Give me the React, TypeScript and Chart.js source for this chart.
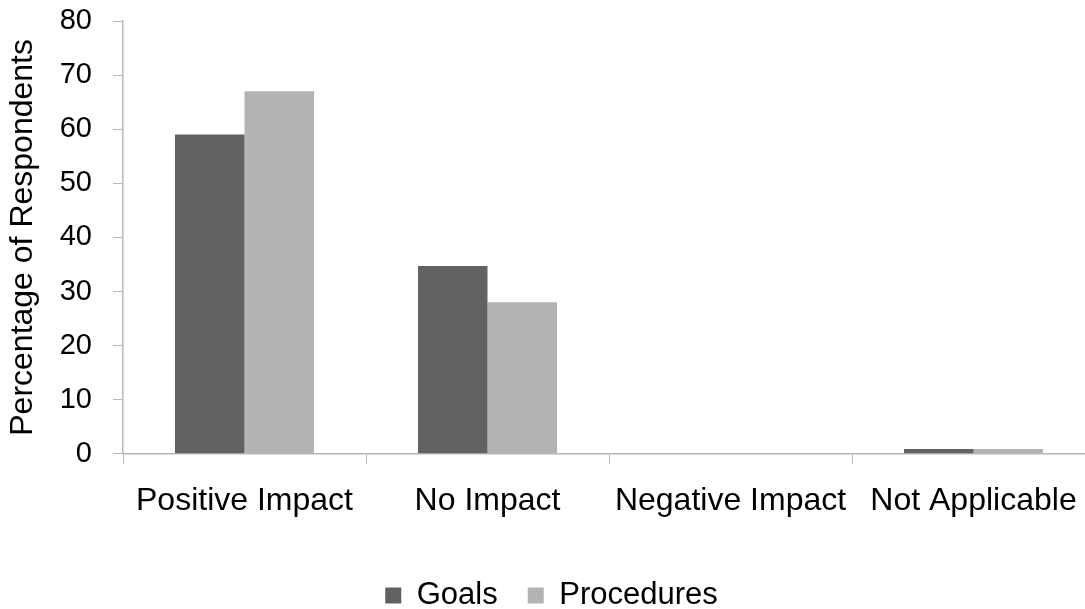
import React, { useEffect, useRef } from "react";
import { Chart, registerables } from "chart.js";

Chart.register(...registerables);

const categories = ["Positive Impact", "No Impact", "Negative Impact", "Not Applicable"];
const goals = [59, 34.7, 0, 0.9];
const procedures = [67, 28, 0, 0.9];
const yTitle = "Percentage of Respondents";

const FONT = "'Liberation Sans', Arial, sans-serif";
const AXIS = "#b8b8b8";

export default function App() {
  const ref = useRef<HTMLCanvasElement | null>(null);

  useEffect(() => {
    if (!ref.current) return;
    const chart = new Chart(ref.current, {
      type: "bar",
      data: {
        labels: categories,
        datasets: [
          { label: "Goals", data: goals, backgroundColor: "#626262", borderWidth: 0 },
          { label: "Procedures", data: procedures, backgroundColor: "#b3b3b3", borderWidth: 0 },
        ],
      },
      options: {
        responsive: false,
        animation: false,
        layout: { padding: { left: 8, right: 0, top: 21, bottom: 0 } },
        datasets: { bar: { categoryPercentage: 0.572, barPercentage: 1 } },
        plugins: {
          tooltip: { enabled: false },
          legend: {
            position: "bottom",
            labels: {
              boxWidth: 16,
              boxHeight: 16,
              padding: 30,
              color: "#000",
              font: { family: FONT, size: 31 },
            },
          },
        },
        scales: {
          x: {
            grid: { drawOnChartArea: false, drawTicks: true, tickLength: 10, color: AXIS, offset: true },
            border: { color: AXIS, width: 1.5 },
            ticks: { color: "#000", padding: 18.5, maxRotation: 0, font: { family: FONT, size: 32 } },
            afterFit: (s: any) => {
              s.height = 96.2;
              s.paddingLeft = 0;
              s.paddingRight = 0;
            },
          },
          y: {
            min: 0,
            max: 80,
            ticks: { stepSize: 10, color: "#000", padding: 21, font: { family: FONT, size: 29 } },
            grid: { drawOnChartArea: false, drawTicks: true, tickLength: 10, color: AXIS },
            border: { color: AXIS, width: 1.5 },
            title: {
              display: true,
              text: yTitle,
              color: "#000",
              padding: { top: -1, bottom: 0 },
              font: { family: FONT, size: 32, lineHeight: 1 },
            },
            afterFit: (s: any) => {
              s.width = 115;
              s.paddingTop = 0;
              s.paddingBottom = 0;
            },
          },
        },
      },
    });
    return () => chart.destroy();
  }, []);

  return (
    <div style={{ position: "fixed", left: 0, top: 0, width: 1085, height: 609, overflow: "hidden", background: "#fff" }}>
      <canvas ref={ref} width={1095} height={621} style={{ display: "block" }} />
    </div>
  );
}
